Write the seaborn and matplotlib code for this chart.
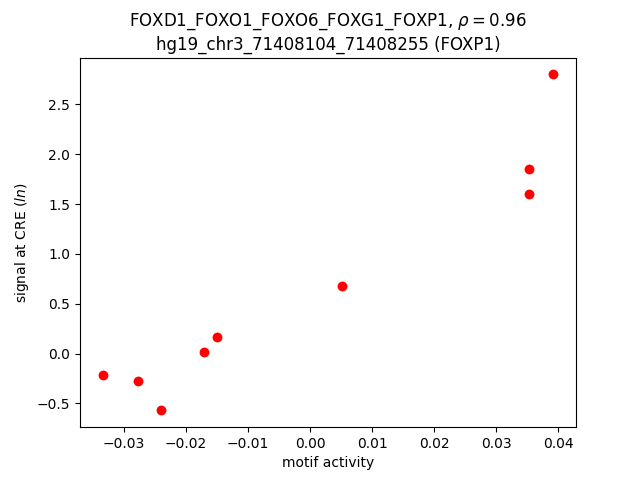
import matplotlib
matplotlib.use("Agg")
import matplotlib.pyplot as plt
import seaborn as sns
import pandas as pd

motif_activity = [-0.0334, -0.0277, -0.0240, -0.0171, -0.0150, 0.0052, 0.0352, 0.0353, 0.0392]
signal = [-0.21, -0.28, -0.57, 0.02, 0.17, 0.68, 1.60, 1.855, 2.80]

df = pd.DataFrame({"motif activity": motif_activity, "signal": signal})

fig, ax = plt.subplots(figsize=(6.4, 4.8), dpi=100)
sns.scatterplot(data=df, x="motif activity", y="signal", color="red", s=50,
                linewidth=0, ax=ax)
ax.set_title("FOXD1_FOXO1_FOXO6_FOXG1_FOXP1, $\\rho = 0.96$\nhg19_chr3_71408104_71408255 (FOXP1)")
ax.set_xlabel("motif activity")
ax.set_ylabel("signal at CRE ($ln$)")
fig.savefig("out.png", dpi=100)
